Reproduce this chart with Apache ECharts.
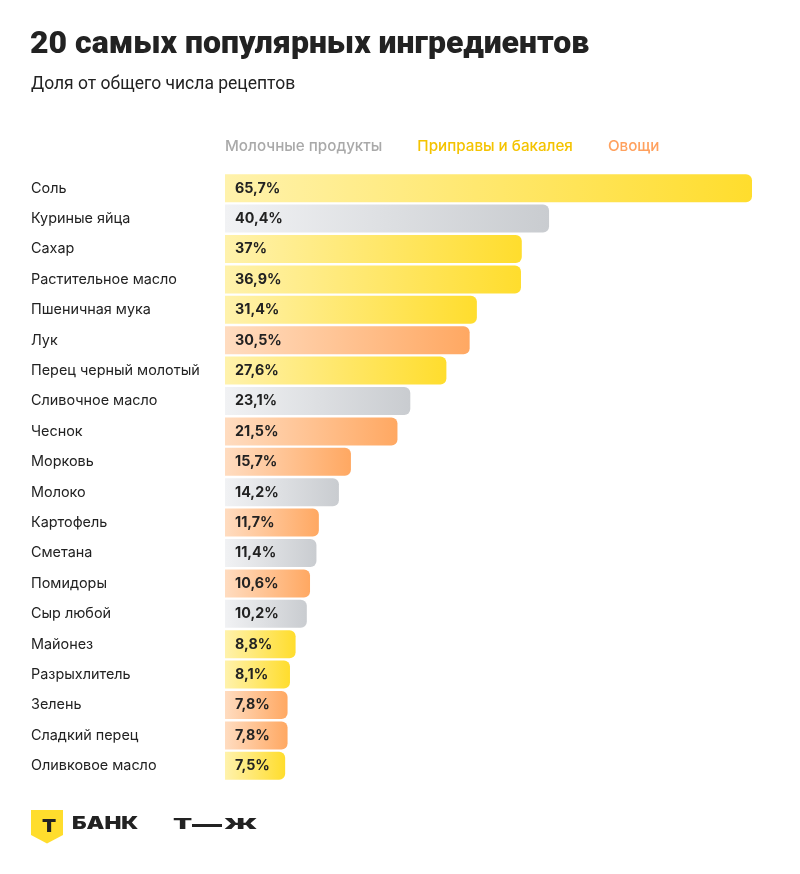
<!DOCTYPE html>
<html><head><meta charset="utf-8">
<script src="https://cdn.jsdelivr.net/npm/echarts@6/dist/echarts.min.js"></script>
<style>html,body{margin:0;padding:0;background:#fff}#c{width:800px;height:874px}</style>
</head><body><div id="c"></div>
<script>
const categories = ["Соль","Куриные яйца","Сахар","Растительное масло","Пшеничная мука","Лук","Перец черный молотый","Сливочное масло","Чеснок","Морковь","Молоко","Картофель","Сметана","Помидоры","Сыр любой","Майонез","Разрыхлитель","Зелень","Сладкий перец","Оливковое масло"];
const values = [65.7,40.4,37,36.9,31.4,30.5,27.6,23.1,21.5,15.7,14.2,11.7,11.4,10.6,10.2,8.8,8.1,7.8,7.8,7.5];
const groups = ["spice","dairy","spice","spice","spice","veg","spice","dairy","veg","veg","dairy","veg","dairy","veg","dairy","spice","spice","veg","veg","spice"];
const groupNames = {dairy:"Молочные продукты", spice:"Приправы и бакалея", veg:"Овощи"};
const groupOrder = ["dairy","spice","veg"];

const styles = {
  dairy:{from:"#f1f2f4", to:"#c9ccd0", legend:"#a9a9a9"},
  spice:{from:"#fff2ac", to:"#ffdd2d", legend:"#f4c300"},
  veg:{from:"#ffdcc0", to:"#ffa862", legend:"#ffa15e"}
};
const chart = echarts.init(document.getElementById('c'));
const series = groupOrder.map(g => ({
  name: groupNames[g],
  type:'bar',
  barWidth:28,
  barGap:'-100%',
  data: values.map((v,i)=> groups[i]===g ? v : '-'),
  itemStyle:{
    borderRadius:[0,6,6,0],
    color:{type:'linear', x:0, y:0, x2:1, y2:0, colorStops:[{offset:0,color:styles[g].from},{offset:1,color:styles[g].to}]}
  },
  label:{show:true, position:'insideLeft', distance:10,
    color:'#222', fontFamily:'Inter', fontWeight:700, fontSize:14.3,
    formatter:p=>String(p.value).replace('.',',')+'%'},
  emphasis:{disabled:true}
}));
chart.setOption({
  animation:false,
  title:[
    {text:'20 самых популярных ингредиентов', left:30, top:29, padding:0,
     textStyle:{fontFamily:'Roboto', fontWeight:900, fontSize:32, color:'#222'}},
    {text:'Доля от общего числа рецептов', left:31, top:76, padding:0,
     textStyle:{fontFamily:'Roboto', fontWeight:400, fontSize:17.5, color:'#222'}}
  ],
  legend:{
    left:215, top:134, icon:'none', itemWidth:0, itemHeight:0, itemGap:30, selectedMode:false,
    data: groupOrder.map(g=>({name:groupNames[g], textStyle:{color:styles[g].legend}})),
    textStyle:{fontFamily:'Inter', fontWeight:500, fontSize:15.2}
  },
  grid:{left:225, top:173, width:527, height:608, containLabel:false},
  xAxis:{type:'value', min:0, max:65.7, show:false},
  yAxis:{type:'category', data:categories, inverse:true,
    axisLine:{show:false}, axisTick:{show:false},
    axisLabel:{align:'left', margin:194, color:'#222', fontFamily:'Inter', fontSize:14.4}},
  series: series,
  graphic:[
    {type:'polygon', shape:{points:[[31,810],[63,810],[63,835],[47,843.5],[31,835]]}, style:{fill:'#ffdd2d'}},
    {type:'text', x:42, y:818, scaleX:1.15, style:{text:'Т', font:'900 18px Inter', fill:'#222', verticalAlign:'top'}},
    {type:'text', x:72, y:815, scaleX:1.25, style:{text:'БАНК', font:'900 18px Inter', fill:'#222', verticalAlign:'top'}},
    {type:'text', x:173, y:818, scaleX:2.0, style:{text:'Т', font:'900 14px Inter', fill:'#222', verticalAlign:'top'}},
    {type:'rect', shape:{x:192, y:824, width:30, height:3}, style:{fill:'#222'}},
    {type:'text', x:224, y:818, scaleX:2.05, style:{text:'Ж', font:'900 14px Inter', fill:'#222', verticalAlign:'top'}}
  ]
});
</script></body></html>
